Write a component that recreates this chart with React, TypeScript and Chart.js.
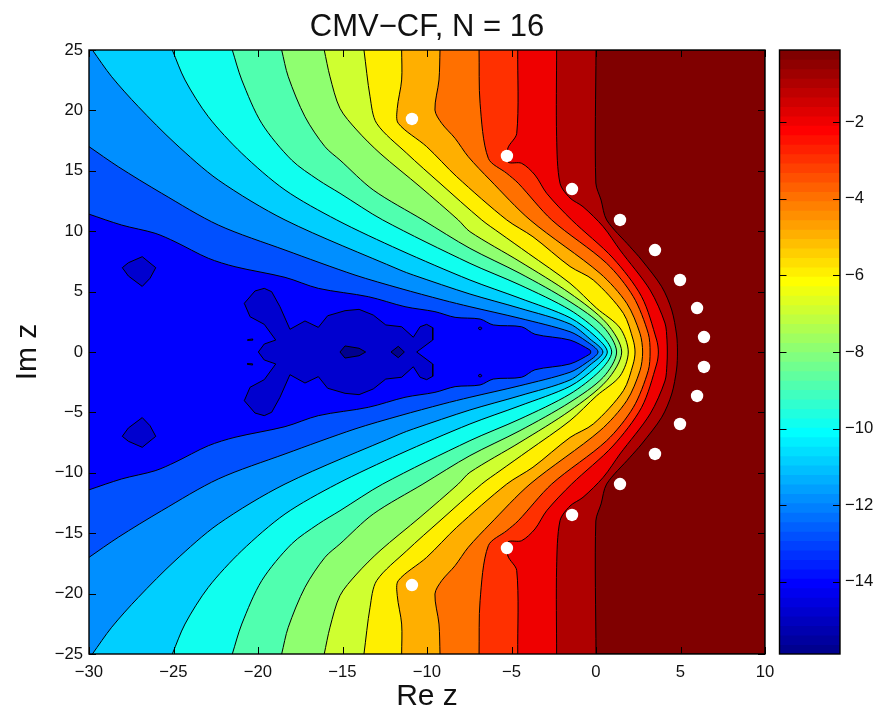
import React, { useEffect, useRef } from "react";
import { Chart, registerables } from "chart.js";

Chart.register(...registerables);

type Pt = [number, number];

const xTickStep = 5;
const yTickStep = 5;
const xRange = [-30, 10];
const yRange = [-25, 25];
const colorRange = [-15.89, -0.11];
const colorTicks = [-14, -12, -10, -8, -6, -4, -2];

// Upper half (Im z >= 0) of each contour line; the plot is symmetric about Im z = 0.
const c1: Pt[] = [[0, 25], [-0.01, 13.99], [0.3, 12.58], [0.63, 10.93], [2.01, 8.72], [2.7, 7.62], [3.89, 5.4], [4.48, 3.48], [4.77, 1.41], [4.82, 0]];
const c2: Pt[] = [[-2.33, 25], [-2.33, 17.82], [-2.13, 13.97], [-1.54, 12.75], [-0.77, 12.03], [0.43, 10.37], [1.42, 8.44], [3.2, 5.13], [4.08, 2.4], [4.2, 1.0], [4.22, 0]];
const c3: Pt[] = [[-4.63, 25], [-4.69, 18.1], [-5.21, 16.89], [-5.21, 15.73], [-4.4, 15.62], [-3.61, 14.65], [-2.92, 13.14], [-1.44, 10.93], [1.0, 7.78], [2.7, 4.58], [3.59, 0.99], [3.69, 0]];
const c4: Pt[] = [[-6.92, 25], [-6.86, 20.59], [-6.37, 16.03], [-5.28, 14.79], [-4.6, 13.97], [-2.62, 10.93], [0.63, 7.34], [2.21, 4.58], [3.09, 1.55], [3.2, 0]];
const c5: Pt[] = [[-9.23, 25], [-9.29, 22.52], [-9.53, 20.03], [-9.13, 18.93], [-8.34, 17.69], [-7.56, 16.17], [-6.27, 14.24], [-3.9, 10.93], [0.24, 6.51], [1.82, 4.03], [2.6, 1.55], [2.76, 0]];
const c6: Pt[] = [[-11.5, 25], [-11.5, 22.52], [-11.76, 20.17], [-11.7, 18.93], [-10.02, 17.0], [-8.24, 14.51], [-5.28, 10.93], [-3.73, 9.54], [-1.54, 7.08], [-0.16, 5.96], [1.62, 3.2], [2.2, 1.0], [2.31, 0]];
const c7: Pt[] = [[-13.73, 25], [-13.37, 21.13], [-12.98, 18.93], [-11.2, 16.45], [-9.23, 13.97], [-6.76, 10.93], [-5.68, 9.83], [-4.01, 8.17], [-1.54, 5.69], [0.04, 3.62], [1.42, 1.99], [1.91, 0]];
const c8: Pt[] = [[-16.08, 25], [-15.74, 22.79], [-15.15, 20.17], [-14.16, 18.38], [-12.78, 16.45], [-10.41, 13.68], [-8.15, 10.93], [-7.46, 9.96], [-4.5, 7.48], [-1.54, 4.86], [0.63, 2.38], [1.52, 0]];
const c9: Pt[] = [[-18.6, 25], [-18.21, 22.79], [-17.22, 19.48], [-16.04, 17.0], [-15.15, 15.89], [-13.18, 13.41], [-10.24, 10.93], [-7.46, 8.58], [-4.5, 6.51], [-1.54, 4.16], [0.43, 2.09], [1.22, 0]];
const c10: Pt[] = [[-21.52, 25], [-20.96, 22.52], [-19.78, 18.93], [-18.01, 15.89], [-16.43, 14.24], [-15.15, 13.14], [-12.62, 10.93], [-7.46, 7.34], [-4.5, 5.55], [-1.54, 3.48], [0.24, 1.55], [0.93, 0]];
const c11: Pt[] = [[-25.07, 25], [-24.32, 22.52], [-22.94, 19.48], [-20.96, 16.45], [-18.4, 13.41], [-15.34, 10.93], [-11.6, 8.44], [-7.46, 5.96], [-4.5, 4.45], [-1.54, 2.84], [-0.06, 1.32], [0.67, 0]];
const c12: Pt[] = [[-29.8, 25], [-28.66, 22.79], [-27.08, 20.31], [-24.91, 17.28], [-22.35, 14.24], [-18.4, 10.93], [-11.6, 6.79], [-10.81, 6.37], [-7.46, 4.8], [-4.5, 3.62], [-1.54, 2.32], [-0.36, 1.08], [0.41, 0]];
const c13: Pt[] = [[-30, 17.0], [-28.27, 15.34], [-25.7, 13.14], [-22.35, 10.51], [-18.4, 8.44], [-14.26, 6.37], [-11.6, 5.27], [-9.05, 4.3], [-7.46, 3.75], [-4.5, 2.79], [-1.54, 1.68], [-0.59, 0.91], [0.12, 0]];
const c14: Pt[] = [[-30, 11.41], [-28.07, 10.51], [-26.09, 9.83], [-24.91, 9.13], [-22.94, 7.76], [-21.36, 7.06], [-18.4, 6.18], [-16.43, 5.27], [-13.47, 4.58], [-11.3, 3.75], [-9.53, 3.34], [-8.34, 2.87], [-6.86, 2.73], [-6.08, 2.24], [-4.4, 2.09], [-3.61, 1.47], [-1.54, 0.99], [-0.36, 0.17], [-0.31, 0]];
const contours = [c1, c2, c3, c4, c5, c6, c7, c8, c9, c10, c11, c12, c13, c14];

// Fill of the plane right of c1, then of the region left of each contour.
const bandColors = ["#800000", "#af0000", "#ef0000", "#ff3000", "#ff7000", "#ffaf00", "#ffef00", "#cfff30", "#8fff70", "#50ffaf", "#10ffef", "#00cfff", "#008fff", "#0050ff", "#0000ff"];
const islandColor = "#0000cf";
const coreColor = "#00008f";

const sideIsland: Pt[] = [[-28.03, 6.98], [-27.67, 7.39], [-26.85, 7.89], [-26.05, 6.98], [-26.39, 6.1], [-26.85, 5.43], [-27.67, 6.29], [-28.03, 6.98]];
const centralIsland: Pt[] = [[-19.98, 0], [-19.63, 0.66], [-18.95, 0.99], [-19.63, 2.29], [-20.47, 2.92], [-20.81, 4.03], [-20.18, 5.05], [-19.63, 5.27], [-19.19, 4.99], [-18.7, 3.75], [-18.11, 1.88], [-17.22, 2.57], [-16.43, 2.04], [-15.88, 3.0], [-14.85, 3.42], [-14.02, 3.53], [-13.18, 3.06], [-12.44, 2.24], [-11.5, 2.09], [-10.81, 1.22], [-10.41, 2.09], [-10.02, 2.29], [-9.66, 2.01], [-9.66, 0.99], [-10.61, 0]];
const speckA: Pt[] = [[-20.62, 1.02], [-20.32, 1.08], [-20.32, 0.98], [-20.62, 0.96], [-20.62, 1.02]];
const speckB: Pt[] = [[-6.98, 1.96], [-6.86, 2.08], [-6.74, 1.96], [-6.86, 1.82], [-6.98, 1.96]];
const coreA: Pt[] = [[-15.15, 0], [-14.85, 0.5], [-14.02, 0.31], [-13.63, 0]];
const coreB: Pt[] = [[-12.13, 0], [-11.7, 0.47], [-11.34, 0]];

const zerosRe = [-10.89, -5.27, -1.42, 1.42, 3.49, 4.97, 5.98, 6.39];
const zerosIm = [19.29, 16.23, 13.49, 10.93, 8.44, 5.96, 3.64, 1.24];

// MATLAB jet(64), bottom to top of the colour bar.
const jet64 = [
  "#00008f", "#00009f", "#0000af", "#0000bf", "#0000cf", "#0000df", "#0000ef", "#0000ff",
  "#0010ff", "#0020ff", "#0030ff", "#0040ff", "#0050ff", "#0060ff", "#0070ff", "#0080ff",
  "#008fff", "#009fff", "#00afff", "#00bfff", "#00cfff", "#00dfff", "#00efff", "#00ffff",
  "#10ffef", "#20ffdf", "#30ffcf", "#40ffbf", "#50ffaf", "#60ff9f", "#70ff8f", "#80ff80",
  "#8fff70", "#9fff60", "#afff50", "#bfff40", "#cfff30", "#dfff20", "#efff10", "#ffff00",
  "#ffef00", "#ffdf00", "#ffcf00", "#ffbf00", "#ffaf00", "#ff9f00", "#ff8f00", "#ff8000",
  "#ff7000", "#ff6000", "#ff5000", "#ff4000", "#ff3000", "#ff2000", "#ff1000", "#ff0000",
  "#ef0000", "#df0000", "#cf0000", "#bf0000", "#af0000", "#9f0000", "#8f0000", "#800000",
];

const FONT = '"Liberation Sans", Arial, sans-serif';
const INK = "#111111";
const TICK_LEN = 7;
const CONTOUR_TENSION = 0.3;

const minus = (v: number | string) => String(v).replace("-", "\u2212");
const toXY = (pts: Pt[]) => pts.map(([x, y]) => ({ x, y }));
const flip = (pts: Pt[]): Pt[] => pts.map(([x, y]) => [x, -y]);
const mirrored = (half: Pt[]): Pt[] => [...half, ...flip(half).reverse().slice(1)];

// The contour carried on a little past the frame, then closed far outside it, so only the line shows.
const leftRegion = (half: Pt[]): Pt[] => {
  const [a, b] = half;
  const ext: Pt = [a[0] + (a[0] - b[0]) * 0.3, a[1] + (a[1] - b[1]) * 0.3];
  const line = mirrored([ext, ...half]);
  const farX = xRange[0] - 40;
  const farY = yRange[1] + 40;
  return [...line, [farX, -farY], [farX, farY], line[0]];
};

const area = (pts: Pt[], color: string, order: number, tension = 0) => ({
  data: toXY(pts),
  backgroundColor: color,
  borderColor: "#000000",
  borderWidth: 1,
  fill: "shape",
  pointRadius: 0,
  tension,
  capBezierPoints: false,
  order,
});

const framePlugin = (sides: "all" | "colorbar") => ({
  id: "frameTicks",
  afterDraw(chart: any) {
    const { ctx, chartArea: a, scales } = chart;
    ctx.save();
    ctx.strokeStyle = "#000000";
    ctx.lineWidth = 1;
    const ln = (x1: number, y1: number, x2: number, y2: number) => {
      ctx.beginPath();
      ctx.moveTo(x1, y1);
      ctx.lineTo(x2, y2);
      ctx.stroke();
    };
    if (sides === "all") {
      for (const t of scales.x.ticks) {
        const x = Math.round(scales.x.getPixelForValue(t.value)) + 0.5;
        ln(x, a.bottom, x, a.bottom - TICK_LEN);
        ln(x, a.top, x, a.top + TICK_LEN);
      }
    }
    for (const t of scales.y.ticks) {
      const y = Math.round(scales.y.getPixelForValue(t.value)) + 0.5;
      ln(a.left, y, a.left + TICK_LEN, y);
      ln(a.right, y, a.right - TICK_LEN, y);
    }
    ctx.lineWidth = 1.4;
    ctx.strokeRect(a.left, a.top, a.right - a.left, a.bottom - a.top);
    ctx.restore();
  },
});

export default function App() {
  const mainRef = useRef<HTMLCanvasElement>(null);
  const barRef = useRef<HTMLCanvasElement>(null);

  useEffect(() => {
    const datasets: any[] = [];
    datasets.push(
      area(
        [[xRange[0], yRange[0]], [xRange[1], yRange[0]], [xRange[1], yRange[1]], [xRange[0], yRange[1]], [xRange[0], yRange[0]]],
        bandColors[0],
        100
      )
    );
    contours.forEach((c, i) => datasets.push(area(leftRegion(c), bandColors[i + 1], 90 - i, CONTOUR_TENSION)));
    [sideIsland, flip(sideIsland), mirrored(centralIsland), speckA, flip(speckA), speckB, flip(speckB)].forEach((p) =>
      datasets.push(area(p, islandColor, 20))
    );
    [mirrored(coreA), mirrored(coreB)].forEach((p) => datasets.push(area(p, coreColor, 10)));
    const zeros: Pt[] = zerosRe.map((x, i) => [x, zerosIm[i]]);
    datasets.push({
      data: toXY([...zeros, ...flip(zeros)]),
      showLine: false,
      pointRadius: 6.2,
      pointBackgroundColor: "#ffffff",
      pointBorderWidth: 0,
      order: 0,
    });

    const main = new Chart(mainRef.current!, {
      type: "line",
      data: { datasets },
      plugins: [framePlugin("all")],
      options: {
        animation: false,
        responsive: false,
        events: [],
        layout: { padding: { right: 89 } },
        plugins: {
          legend: { display: false },
          tooltip: { enabled: false },
          title: {
            display: true,
            fullSize: false,
            text: "CMV\u2212CF, N = 16",
            color: INK,
            font: { family: FONT, size: 31, weight: "normal" },
            padding: { top: 8.4, bottom: 4.4 },
          },
        },
        scales: {
          x: {
            type: "linear",
            min: xRange[0],
            max: xRange[1],
            ticks: { stepSize: xTickStep, color: INK, padding: 8, maxRotation: 0, font: { family: FONT, size: 16.7 }, callback: (v: any) => minus(v) },
            grid: { display: false, drawTicks: false },
            border: { display: false },
            title: { display: true, text: "Re z", color: INK, font: { family: FONT, size: 30, lineHeight: 1 }, padding: 0 },
            afterFit: (s: any) => { s.height = 58; },
          },
          y: {
            type: "linear",
            min: yRange[0],
            max: yRange[1],
            ticks: { stepSize: yTickStep, color: INK, padding: 6, font: { family: FONT, size: 16.7 }, callback: (v: any) => minus(v) },
            grid: { display: false, drawTicks: false },
            border: { display: false },
            title: { display: true, text: "Im z", color: INK, font: { family: FONT, size: 30 }, padding: 10 },
            afterFit: (s: any) => { s.width = 89; },
          },
        },
      } as any,
    });

    const step = (colorRange[1] - colorRange[0]) / jet64.length;
    const bar = new Chart(barRef.current!, {
      type: "bar",
      data: {
        labels: ["level"],
        datasets: jet64.map((color, i) => ({
          data: [[colorRange[0] + i * step, colorRange[1]]],
          backgroundColor: color,
          borderWidth: 0,
          barPercentage: 1,
          categoryPercentage: 1,
          order: jet64.length - i,
        })),
      } as any,
      plugins: [framePlugin("colorbar")],
      options: {
        animation: false,
        responsive: false,
        events: [],
        layout: { padding: { left: 9.5, top: 50, bottom: 58 } },
        plugins: { legend: { display: false }, tooltip: { enabled: false } },
        scales: {
          x: { display: false, stacked: true },
          y: {
            position: "right",
            min: colorRange[0],
            max: colorRange[1],
            afterBuildTicks: (s: any) => { s.ticks = colorTicks.map((value) => ({ value })); },
            ticks: { color: INK, padding: 5, font: { family: FONT, size: 16.7 }, callback: (v: any) => minus(v) },
            grid: { display: false, drawTicks: false },
            border: { display: false },
            afterFit: (s: any) => { s.width = 44; },
          },
        },
      } as any,
    });

    return () => {
      main.destroy();
      bar.destroy();
    };
  }, []);

  return (
    <div style={{ position: "fixed", left: 0, top: 0, width: 884, height: 712, background: "#ffffff" }}>
      <canvas ref={mainRef} width={854} height={712} style={{ position: "absolute", left: 0, top: 0, display: "block" }} />
      <canvas ref={barRef} width={114} height={712} style={{ position: "absolute", left: 770, top: 0, display: "block" }} />
    </div>
  );
}
